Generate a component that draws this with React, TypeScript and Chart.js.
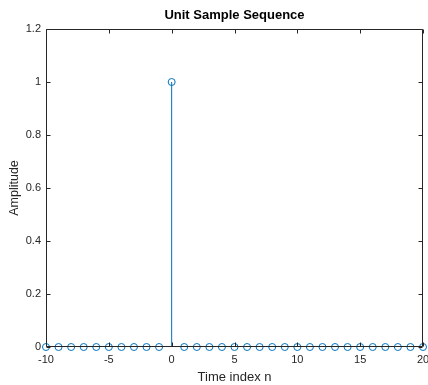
import React, { useEffect, useRef } from "react";
import { Chart, registerables } from "chart.js";

Chart.register(...registerables);

const nValues: number[] = [-10, -9, -8, -7, -6, -5, -4, -3, -2, -1, 0, 1, 2, 3, 4, 5, 6, 7, 8, 9, 10, 11, 12, 13, 14, 15, 16, 17, 18, 19, 20];
const amplitudes: number[] = [0, 0, 0, 0, 0, 0, 0, 0, 0, 0, 1, 0, 0, 0, 0, 0, 0, 0, 0, 0, 0, 0, 0, 0, 0, 0, 0, 0, 0, 0, 0];
const xTickValues: number[] = [-10, -5, 0, 5, 10, 15, 20];
const xTickLabels: string[] = ["-10", "-5", "0", "5", "10", "15", "20"];
const yTickValues: number[] = [0, 0.2, 0.4, 0.6, 0.8, 1, 1.2];
const yTickLabels: string[] = ["0", "0.2", "0.4", "0.6", "0.8", "1", "1.2"];

const AXIS_COLOR = "#262626";
const STEM_COLOR = "#0072BD";
const FONT = "'Liberation Sans', Arial, Helvetica, sans-serif";

const boxPlugin = {
  id: "matlabBox",
  afterDraw(chart: any) {
    const { ctx, chartArea, scales } = chart;
    const l = Math.round(chartArea.left) + 0.5;
    const r = Math.round(chartArea.right) - 0.5;
    const t = Math.round(chartArea.top) + 0.5;
    const b = Math.round(chartArea.bottom) - 0.5;
    const tl = 4;
    ctx.save();
    ctx.strokeStyle = AXIS_COLOR;
    ctx.lineWidth = 1;
    ctx.beginPath();
    ctx.rect(l, t, r - l, b - t);
    xTickValues.forEach((v) => {
      const x = Math.round(scales.x.getPixelForValue(v)) + 0.5;
      ctx.moveTo(x, b);
      ctx.lineTo(x, b - tl);
      ctx.moveTo(x, t);
      ctx.lineTo(x, t + tl);
    });
    yTickValues.forEach((v) => {
      const y = Math.round(scales.y.getPixelForValue(v)) + 0.5;
      ctx.moveTo(l, y);
      ctx.lineTo(l + tl, y);
      ctx.moveTo(r, y);
      ctx.lineTo(r - tl, y);
    });
    ctx.stroke();
    ctx.restore();
  },
};

export default function App() {
  const ref = useRef<HTMLCanvasElement | null>(null);

  useEffect(() => {
    document.body.style.margin = "0";
    const canvas = ref.current;
    if (!canvas) return;

    const stemData: any[] = [];
    nValues.forEach((n, i) => {
      stemData.push({ x: n, y: 0 });
      stemData.push({ x: n, y: amplitudes[i] });
      stemData.push({ x: n, y: null });
    });
    const markerData = nValues.map((n, i) => ({ x: n, y: amplitudes[i] }));

    const chart = new Chart(canvas, {
      type: "scatter",
      data: {
        datasets: [
          {
            type: "line",
            data: stemData,
            borderColor: STEM_COLOR,
            borderWidth: 1,
            pointRadius: 0,
            spanGaps: false,
            fill: false,
            clip: false,
          } as any,
          {
            type: "scatter",
            data: markerData,
            borderColor: STEM_COLOR,
            backgroundColor: "rgba(0,0,0,0)",
            borderWidth: 1,
            pointRadius: 3.5,
            clip: false,
          } as any,
        ],
      },
      options: {
        animation: false,
        responsive: false,
        maintainAspectRatio: false,
        layout: { padding: { left: 0, right: 5, top: 0, bottom: 0 } },
        plugins: {
          legend: { display: false },
          tooltip: { enabled: false },
          title: {
            display: true,
            fullSize: false,
            text: "Unit Sample Sequence",
            color: "#000000",
            font: { family: FONT, size: 13, weight: "bold" },
            padding: { top: 8, bottom: 5.4 },
          },
        },
        scales: {
          x: {
            type: "linear",
            min: -10,
            max: 20,
            afterBuildTicks: (scale: any) => {
              scale.ticks = xTickValues.map((v) => ({ value: v }));
            },
            afterFit: (scale: any) => {
              scale.height = 38;
              scale.paddingLeft = 0;
              scale.paddingRight = 0;
            },
            grid: { display: false, drawTicks: false },
            border: { display: false },
            ticks: {
              color: AXIS_COLOR,
              font: { family: FONT, size: 11 },
              padding: 6,
              maxRotation: 0,
              callback: (v: any) => {
                const i = xTickValues.findIndex((t) => Math.abs(t - Number(v)) < 1e-9);
                return i >= 0 ? xTickLabels[i] : "";
              },
            },
            title: {
              display: true,
              text: "Time index n",
              color: AXIS_COLOR,
              font: { family: FONT, size: 13 },
              padding: { top: 0, bottom: 0.2 },
            },
          },
          y: {
            type: "linear",
            min: 0,
            max: 1.2,
            afterBuildTicks: (scale: any) => {
              scale.ticks = yTickValues.map((v) => ({ value: v }));
            },
            afterFit: (scale: any) => {
              scale.width = 46;
            },
            grid: { display: false, drawTicks: false },
            border: { display: false },
            ticks: {
              color: AXIS_COLOR,
              font: { family: FONT, size: 11 },
              padding: 5,
              callback: (v: any) => {
                const i = yTickValues.findIndex((t) => Math.abs(t - Number(v)) < 1e-9);
                return i >= 0 ? yTickLabels[i] : "";
              },
            },
            title: {
              display: true,
              text: "Amplitude",
              color: AXIS_COLOR,
              font: { family: FONT, size: 12.5 },
              padding: { top: 7.5, bottom: 0 },
            },
          },
        },
      },
      plugins: [boxPlugin],
    });

    return () => {
      chart.destroy();
    };
  }, []);

  return (
    <div style={{ width: 428, height: 385, background: "#ffffff" }}>
      <canvas ref={ref} width={428} height={385} style={{ display: "block", width: 428, height: 385 }} />
    </div>
  );
}
